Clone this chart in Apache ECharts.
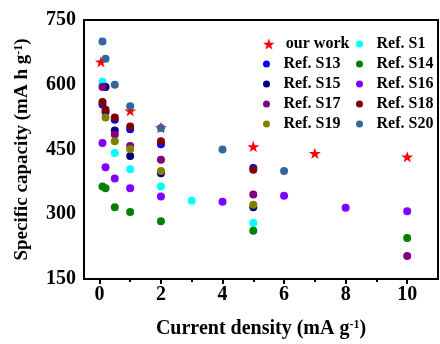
<!DOCTYPE html>
<html>
<head>
<meta charset="utf-8">
<script src="https://cdn.jsdelivr.net/npm/echarts@6/dist/echarts.min.js"></script>
<style>
html,body{margin:0;padding:0;background:#fff;}
#c{width:440px;height:344px;}
</style>
</head>
<body>
<div id="c"></div>
<script>
// Data: [current density, specific capacity]
const ourWork = [[0.05,653],[1,540],[2,501],[5,457],[7,441],[10,433]];
const refS1  = [[0.1,607],[0.5,442],[1,404],[2,364],[3,331],[5,280]];
const refS13 = [[0.1,554],[0.2,537],[0.5,519],[1,497],[2,462],[5,407]];
const refS14 = [[0.1,364],[0.2,360],[0.5,316],[1,305],[2,284],[5,262],[10,245]];
const refS15 = [[0.2,595],[0.5,494],[1,435],[2,395],[5,316]];
const refS16 = [[0.1,465],[0.2,409],[0.5,383],[1,360],[2,341],[4,329],[6,343],[8,315],[10,307]];
const refS17 = [[0.1,595],[0.5,485],[1,458],[2,426],[5,346],[10,203]];
const refS18 = [[0.1,560],[0.2,542],[0.5,524],[1,503],[2,469],[5,403]];
const refS19 = [[0.2,524],[0.5,469],[1,451],[2,400],[5,322]];
const refS20 = [[0.1,700],[0.2,660],[0.5,600],[1,550],[2,500],[4,450],[6,400]];

const xMajorTicks = [0,2,4,6,8,10];
const xMinorTicks = [1,3,5,7,9];
const seriesNames = ['our work','Ref. S1','Ref. S13','Ref. S14','Ref. S15','Ref. S16','Ref. S17','Ref. S18','Ref. S19','Ref. S20'];
const seriesData = [ourWork, refS1, refS13, refS14, refS15, refS16, refS17, refS18, refS19, refS20];
const seriesColors = ['#ff0000','#00ffff','#0000ff','#008000','#000080','#8000ff','#800080','#800000','#808000','#336699'];

const STAR = 'path://M50,0 L61.8,35.1 L98.1,35.1 L68.8,56.8 L79.4,90.5 L50,69.1 L20.6,90.5 L31.2,56.8 L1.9,35.1 L38.2,35.1 Z';
const FF = '"Liberation Serif","Times New Roman",serif';
const richName = {
  a: {fontSize: 20, fontWeight: 'bold', fontFamily: FF, color: '#000'},
  s: {fontSize: 12, fontWeight: 'bold', fontFamily: FF, color: '#000', verticalAlign: 'top'}
};

const chart = echarts.init(document.getElementById('c'), null, {renderer: 'canvas'});

const series = seriesNames.map((n, i) => ({
  name: n,
  type: 'scatter',
  data: seriesData[i],
  symbol: i === 0 ? STAR : 'circle',
  symbolKeepAspect: true,
  symbolSize: i === 0 ? 12 : 8,
  itemStyle: {color: seriesColors[i], opacity: 1},
  emphasis: {disabled: true},
  z: 2
}));

const legendText = {fontFamily: FF, fontWeight: 'bold', fontSize: 16, color: '#000', lineHeight: 16};

chart.setOption({
  animation: false,
  grid: {left: 84, top: 20, width: 354, height: 265, show: true, borderColor: '#000', borderWidth: 2, backgroundColor: 'transparent', z: 0},
  xAxis: [{
    type: 'value', min: -0.5, max: 11,
    axisLine: {show: true, lineStyle: {color: '#000', width: 2}},
    axisTick: {show: true, customValues: xMajorTicks, length: 5, lineStyle: {color: '#000', width: 2}},
    axisLabel: {customValues: xMajorTicks, fontFamily: FF, fontWeight: 'bold', fontSize: 20, color: '#000', margin: 6},
    splitLine: {show: false},
    name: '{a|Current density (mA g}{s|-1}{a|)}',
    nameLocation: 'middle', nameGap: 40,
    nameTextStyle: {rich: richName}
  }, {
    type: 'value', min: -0.5, max: 11, position: 'bottom',
    axisLine: {show: false},
    axisTick: {show: true, customValues: xMinorTicks, length: 3, lineStyle: {color: '#000', width: 2}},
    axisLabel: {show: true, customValues: xMinorTicks, formatter: () => ''},
    splitLine: {show: false}
  }],
  yAxis: {
    type: 'value', min: 150, max: 750, interval: 150,
    axisLine: {show: false},
    axisTick: {show: false},
    axisLabel: {fontFamily: FF, fontWeight: 'bold', fontSize: 20, color: '#000', margin: 8},
    splitLine: {show: false},
    name: '{a|Specific capacity (mA h g}{s|-1}{a|)}',
    nameLocation: 'middle', nameGap: 52, nameRotate: 90,
    nameTextStyle: {rich: {a: Object.assign({}, richName.a, {fontSize: 19}), s: richName.s}}
  },
  legend: [{
    data: [{name: 'our work', icon: STAR}],
    orient: 'vertical', left: 258, top: 31, itemWidth: 24, itemHeight: 11, itemGap: 4,
    textStyle: legendText, selectedMode: false
  }, {
    data: ['Ref. S13','Ref. S15','Ref. S17','Ref. S19'].map(n => ({name: n, icon: 'circle'})),
    orient: 'vertical', left: 258, top: 51, itemWidth: 24, itemHeight: 7, itemGap: 4,
    textStyle: legendText, selectedMode: false
  }, {
    data: ['Ref. S1','Ref. S14','Ref. S16','Ref. S18','Ref. S20'].map(n => ({name: n, icon: 'circle'})),
    orient: 'vertical', left: 351, top: 31, itemWidth: 24, itemHeight: 7, itemGap: 4,
    textStyle: legendText, selectedMode: false
  }],
  series: series
});
</script>
</body>
</html>
